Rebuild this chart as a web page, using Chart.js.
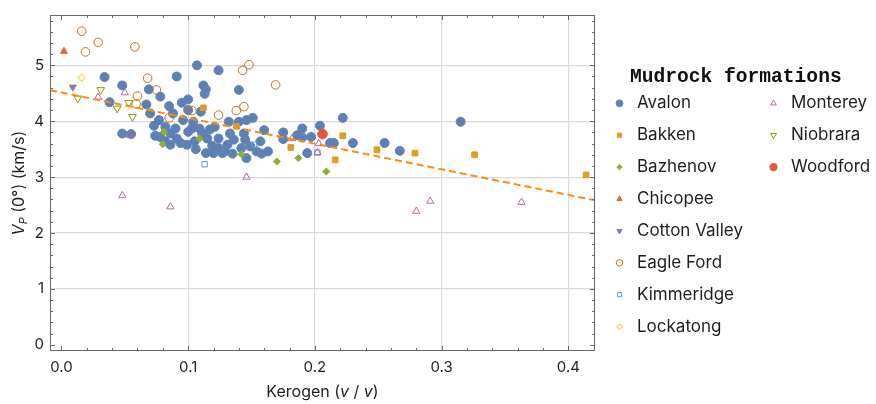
<!DOCTYPE html>
<html>
<head>
<meta charset="utf-8">
<script src="https://cdn.jsdelivr.net/npm/chart.js@4.4.1/dist/chart.umd.min.js"></script>
<style>
  html, body { margin: 0; padding: 0; background: #fff; }
</style>
</head>
<body>
<canvas id="chart" width="876" height="404"></canvas>
<script>
// formations in legend order
const formations = ["Avalon", "Bakken", "Bazhenov", "Chicopee", "Cotton Valley", "Eagle Ford",
  "Kimmeridge", "Lockatong", "Monterey", "Niobrara", "Woodford"];

// [kerogen, Vp]
const avalon = [
  [0.034,4.79],[0.048,4.64],[0.038,4.34],[0.048,3.78],[0.055,3.77],
  [0.069,4.57],[0.078,4.44],[0.067,4.30],[0.070,4.14],[0.073,3.92],
  [0.074,3.74],[0.077,4.02],[0.085,4.27],[0.088,4.14],[0.082,3.90],
  [0.086,3.78],[0.090,3.87],[0.091,4.80],[0.095,4.33],[0.100,4.39],
  [0.100,4.20],[0.091,3.69],[0.094,3.61],[0.099,3.58],[0.100,3.81],
  [0.103,3.87],[0.104,3.99],[0.107,5.00],[0.110,4.17],[0.112,4.64],
  [0.114,4.57],[0.113,4.49],[0.109,3.87],[0.111,3.78],[0.115,3.69],
  [0.114,3.43],[0.119,3.56],[0.120,3.43],[0.124,4.91],[0.124,3.69],
  [0.124,3.52],[0.127,3.43],[0.132,3.99],[0.133,3.78],[0.136,3.67],
  [0.131,3.58],[0.140,4.56],[0.140,3.99],[0.146,4.02],[0.151,4.06],
  [0.144,3.78],[0.145,3.67],[0.142,3.52],[0.146,3.34],[0.154,3.46],
  [0.157,3.64],[0.160,3.84],[0.163,3.46],[0.175,3.80],[0.175,3.68],
  [0.186,3.75],[0.190,3.87],[0.190,3.71],[0.197,3.72],[0.204,3.92],
  [0.194,3.43],[0.222,4.06],[0.212,3.61],[0.215,3.61],[0.230,3.61],
  [0.255,3.61],[0.267,3.47],[0.315,3.99],
  [0.078,3.72],[0.082,3.64],[0.086,3.58],[0.105,3.64],[0.106,3.50],
  [0.117,3.85],[0.121,3.90],[0.129,3.46],[0.135,3.42],[0.149,3.55],
  [0.158,3.42],[0.096,4.02]
];
const bakken = [[0.112,4.24],[0.138,3.91],[0.181,3.53],[0.222,3.74],[0.216,3.31],
  [0.249,3.49],[0.279,3.43],[0.326,3.40],[0.414,3.04]];
const bazhenov = [[0.081,3.81],[0.080,3.59],[0.109,3.69],[0.142,3.41],[0.170,3.28],
  [0.187,3.34],[0.209,3.10]];
const chicopee = [[0.002,5.25]];
const cottonValley = [[0.009,4.61]];
const eagleFord = [[0.016,5.61],[0.019,5.24],[0.029,5.41],[0.058,5.33],[0.068,4.77],
  [0.075,4.56],[0.060,4.45],[0.059,4.31],[0.085,4.06],[0.103,4.19],[0.124,4.11],
  [0.138,4.19],[0.144,4.26],[0.143,4.91],[0.148,5.01],[0.169,4.65]];
const kimmeridge = [[0.113,3.23],[0.152,3.58],[0.202,3.44]];
const lockatong = [[0.016,4.78]];
const monterey = [[0.029,4.43],[0.050,4.51],[0.054,3.75],[0.048,2.67],[0.086,2.47],
  [0.146,3.00],[0.182,3.69],[0.203,3.60],[0.202,3.44],[0.280,2.39],[0.291,2.57],[0.363,2.55]];
const niobrara = [[0.013,4.41],[0.031,4.56],[0.044,4.23],[0.053,4.33],[0.056,4.08]];
const woodford = [[0.206,3.77]];

// fitted trend line, at the plot edges
const trendX = [-0.009, 0.421];
const trendY = [4.555, 2.585];

const xTicks = [0, 0.1, 0.2, 0.3, 0.4];
const xTickLabels = ["0.0", "0.1", "0.2", "0.3", "0.4"];
const yTicks = [0, 1, 2, 3, 4, 5];
const yTickLabels = ["0", "1", "2", "3", "4", "5"];

const series = [avalon, bakken, bazhenov, chicopee, cottonValley, eagleFord,
  kimmeridge, lockatong, monterey, niobrara, woodford];

const styles = [
  { color: '#5E81B5', shape: 'circle', r: 4.5, fill: true },
  { color: '#E19C24', shape: 'rect', r: 4, fill: true },
  { color: '#8FB032', shape: 'rectRot', r: 3.6, fill: true },
  { color: '#EB6235', shape: 'triangle', r: 4, fill: true },
  { color: '#8778B3', shape: 'triangle', r: 4, fill: true, rot: 180 },
  { color: '#C56E1A', shape: 'circle', r: 4.3, fill: false },
  { color: '#5D9EC7', shape: 'rect', r: 3.8, fill: false },
  { color: '#FFBF00', shape: 'rectRot', r: 3.6, fill: false },
  { color: '#B56BAE', shape: 'triangle', r: 4.2, fill: false },
  { color: '#929600', shape: 'triangle', r: 4.5, fill: false, rot: 180 },
  { color: '#E95536', shape: 'circle', r: 4.8, fill: true }
];

const FONT = 'Inter, "Noto Sans", sans-serif';
const TEXT = '#1e1e1e';

const datasets = series.map((pts, i) => {
  const st = styles[i];
  return {
    label: formations[i],
    data: pts.map(p => ({ x: p[0], y: p[1] })),
    pointStyle: st.shape,
    pointRotation: st.rot || 0,
    pointRadius: st.r,
    pointHoverRadius: st.r,
    pointBackgroundColor: st.fill ? st.color : 'rgba(0,0,0,0)',
    pointBorderColor: st.color,
    pointBorderWidth: 1,
    order: 20 - i
  };
});

datasets.push({
  type: 'line',
  label: 'trend',
  data: trendX.map((x, i) => ({ x: x, y: trendY[i] })),
  borderColor: '#FF8A10',
  borderWidth: 2,
  borderDash: [7, 4],
  pointRadius: 0,
  fill: false,
  order: 0
});

// frame with inward ticks on all four sides
const framePlugin = {
  id: 'frame',
  afterDraw(chart) {
    const { ctx, chartArea: a, scales: { x, y } } = chart;
    ctx.save();
    ctx.strokeStyle = '#666';
    ctx.lineWidth = 1;
    ctx.strokeRect(a.left + 0.5, a.top + 0.5, a.right - a.left - 1, a.bottom - a.top - 1);
    ctx.beginPath();
    for (let k = 0; k <= 21; k++) {
      const px = Math.round(x.getPixelForValue(k * 0.02)) + 0.5;
      const len = k % 5 === 0 ? 5 : 3;
      ctx.moveTo(px, a.bottom); ctx.lineTo(px, a.bottom - len);
      ctx.moveTo(px, a.top); ctx.lineTo(px, a.top + len);
    }
    for (let k = 0; k <= 29; k++) {
      const py = Math.round(y.getPixelForValue(k * 0.2)) + 0.5;
      const len = k % 5 === 0 ? 5 : 3;
      ctx.moveTo(a.left, py); ctx.lineTo(a.left + len, py);
      ctx.moveTo(a.right, py); ctx.lineTo(a.right - len, py);
    }
    ctx.stroke();
    ctx.restore();
  }
};

function drawRuns(ctx, runs, cx, cy) {
  let total = 0;
  runs.forEach(r => { ctx.font = r.font; r.w = ctx.measureText(r.t).width; total += r.w; });
  let px = cx - total / 2;
  runs.forEach(r => { ctx.font = r.font; ctx.fillText(r.t, px, cy + (r.dy || 0)); px += r.w; });
}

// axis titles with italic parts
const titlesPlugin = {
  id: 'titles',
  afterDraw(chart) {
    const { ctx, chartArea: a } = chart;
    const reg = '16px ' + FONT, it = 'italic 16px ' + FONT, sub = 'italic 11px ' + FONT;
    ctx.save();
    ctx.fillStyle = TEXT;
    ctx.textBaseline = 'alphabetic';
    drawRuns(ctx, [
      { t: 'Kerogen ', font: reg }, { t: '(', font: reg }, { t: 'v', font: it },
      { t: ' / ', font: reg }, { t: 'v', font: it }, { t: ')', font: reg }
    ], (a.left + a.right) / 2, 397);
    ctx.translate(24, (a.top + a.bottom) / 2);
    ctx.rotate(-Math.PI / 2);
    drawRuns(ctx, [
      { t: 'V', font: it }, { t: 'P', font: sub, dy: 3 }, { t: ' (0°) (km/s)', font: reg }
    ], 0, 0);
    ctx.restore();
  }
};

// two-column legend with a monospace title
const legendPlugin = {
  id: 'mudLegend',
  afterDraw(chart) {
    const ctx = chart.ctx;
    ctx.save();
    ctx.textBaseline = 'middle';
    ctx.fillStyle = '#111';
    ctx.font = 'bold 19.6px "Liberation Mono", "DejaVu Sans Mono", monospace';
    ctx.fillText('Mudrock formations', 630, 77);
    formations.forEach((name, i) => {
      const col = i < 8 ? 0 : 1;
      const row = col ? i - 8 : i;
      const mx = col ? 773.5 : 619.5;
      const tx = col ? 791 : 637;
      const my = 103.3 + row * 31.9;
      const st = styles[i];
      ctx.fillStyle = st.fill ? st.color : 'rgba(0,0,0,0)';
      ctx.strokeStyle = st.color;
      ctx.lineWidth = 1;
      Chart.helpers.drawPoint(ctx, {
        pointStyle: st.shape, radius: st.r * 0.76, rotation: st.rot || 0, borderWidth: 1
      }, mx, my);
      ctx.fillStyle = TEXT;
      ctx.font = '17px ' + FONT;
      ctx.fillText(name, tx, my);
    });
    ctx.restore();
  }
};

new Chart(document.getElementById('chart'), {
  type: 'scatter',
  data: { datasets: datasets },
  options: {
    responsive: false,
    animation: false,
    devicePixelRatio: 1,
    layout: { padding: { left: 0, right: 281, top: 13, bottom: 0 } },
    plugins: { legend: { display: false }, tooltip: { enabled: false } },
    scales: {
      x: {
        type: 'linear', min: -0.009, max: 0.421,
        afterBuildTicks: s => { s.ticks = xTicks.map(v => ({ value: v })); },
        afterFit: s => { s.height = 53; },
        ticks: {
          callback: v => xTickLabels[xTicks.indexOf(v)],
          autoSkip: false, maxRotation: 0, padding: 7,
          color: TEXT, font: { family: FONT, size: 15 }
        },
        grid: {
          color: c => (c.tick && c.tick.value === 0) ? 'rgba(0,0,0,0)' : '#dadada',
          lineWidth: 1.2, drawTicks: false
        },
        border: { display: false }
      },
      y: {
        type: 'linear', min: -0.11, max: 5.9,
        afterBuildTicks: s => { s.ticks = yTicks.map(v => ({ value: v })); },
        afterFit: s => { s.width = 50; },
        ticks: {
          callback: v => yTickLabels[yTicks.indexOf(v)],
          autoSkip: false, padding: 6,
          color: TEXT, font: { family: FONT, size: 15 }
        },
        grid: {
          color: c => (c.tick && c.tick.value === 0) ? 'rgba(0,0,0,0)' : '#dadada',
          lineWidth: 1.2, drawTicks: false
        },
        border: { display: false }
      }
    }
  },
  plugins: [framePlugin, titlesPlugin, legendPlugin]
});
</script>
</body>
</html>
